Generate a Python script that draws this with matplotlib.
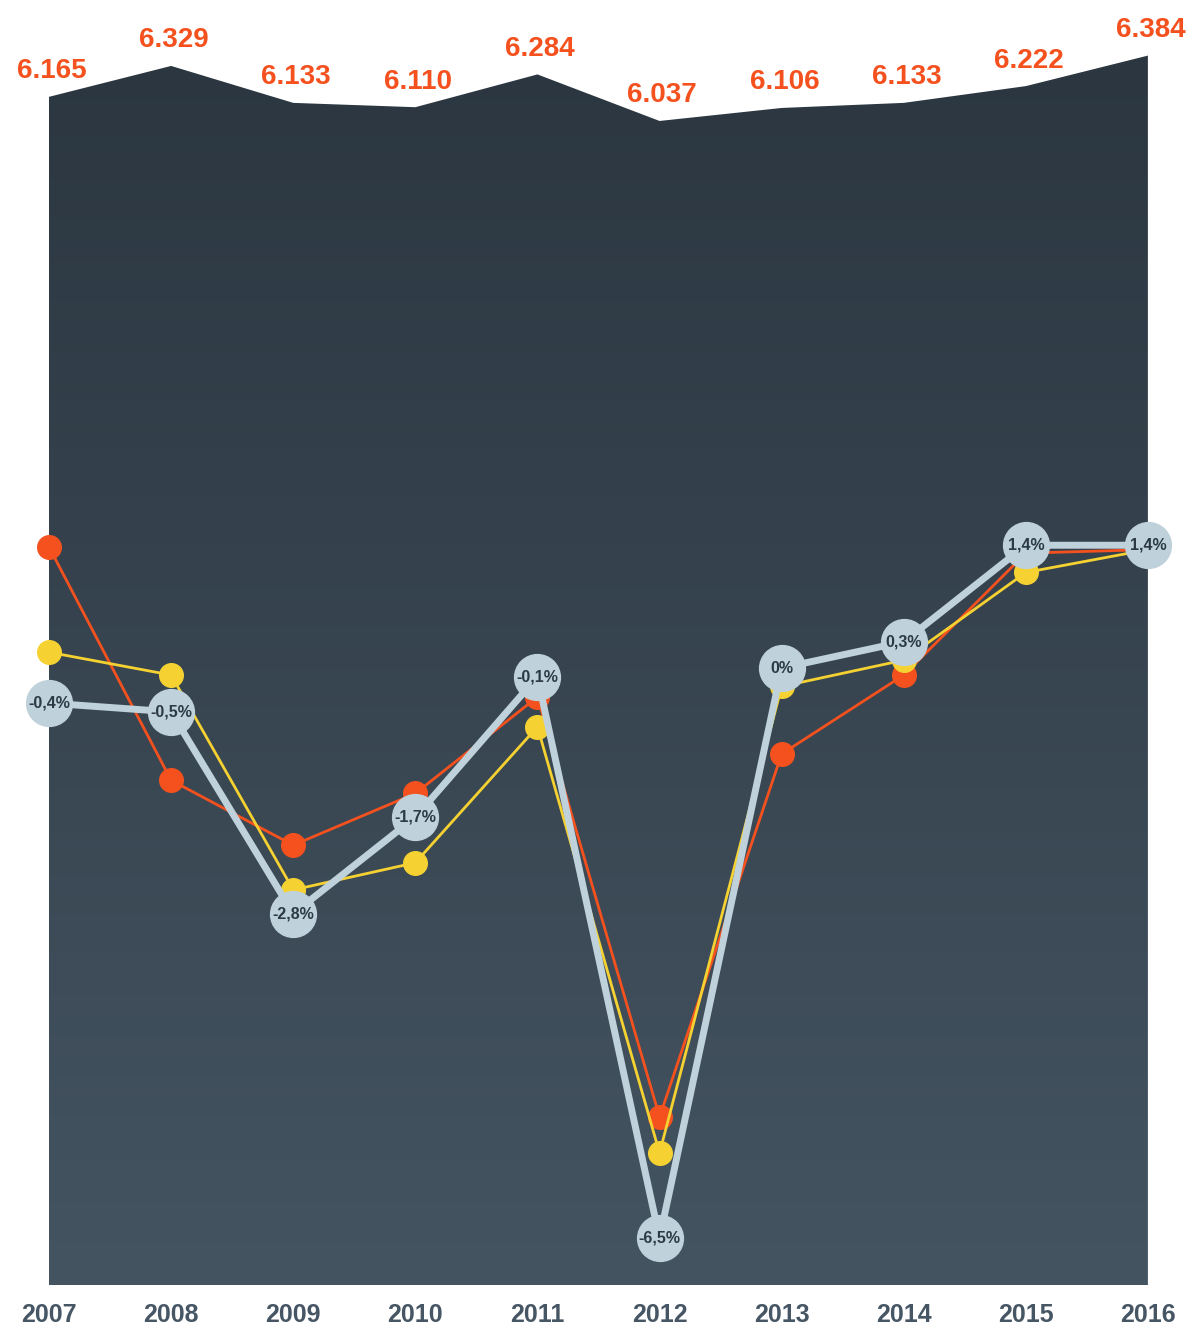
import numpy as np
import matplotlib.pyplot as plt
from matplotlib.patches import Polygon

years = [2007, 2008, 2009, 2010, 2011, 2012, 2013, 2014, 2015, 2016]
totals = [6.165, 6.329, 6.133, 6.110, 6.284, 6.037, 6.106, 6.133, 6.222, 6.384]
total_labels = ["6.165", "6.329", "6.133", "6.110", "6.284", "6.037", "6.106", "6.133", "6.222", "6.384"]

blue_vals = [-0.4, -0.5, -2.8, -1.7, -0.1, -6.5, 0.0, 0.3, 1.4, 1.4]
blue_labels = ["-0,4%", "-0,5%", "-2,8%", "-1,7%", "-0,1%", "-6,5%", "0%", "0,3%", "1,4%", "1,4%"]
red_vals = [1.38, -1.28, -2.02, -1.43, -0.33, -5.12, -0.98, -0.08, 1.31, 1.35]
yellow_vals = [0.18, -0.08, -2.53, -2.22, -0.67, -5.53, -0.21, 0.09, 1.09, 1.35]

ORANGE = "#f4511e"
YELLOW = "#f5d232"
BLUE = "#bfd1db"
DARK = "#2c3a45"
YEARC = "#465664"
FONT = ["Liberation Sans", "DejaVu Sans"]

fig = plt.figure(figsize=(11.9, 13.28), dpi=100)
ax = fig.add_axes([49 / 1190, 43 / 1328, 1099 / 1190, 1285 / 1328])
ax.set_xlim(2007, 2016)
ax.set_ylim(-0.141, 6.679)
for s in ax.spines.values():
    s.set_visible(False)
ax.set_yticks([])

# gradient area
base = -0.141
verts = [(years[0], base)] + list(zip(years, totals)) + [(years[-1], base)]
poly = Polygon(verts, closed=True, facecolor="none", edgecolor="none")
ax.add_patch(poly)
grad = np.linspace(0, 1, 256).reshape(-1, 1)
top_c = np.array([0x2b, 0x36, 0x40]) / 255
bot_c = np.array([0x44, 0x54, 0x61]) / 255
img = top_c + (bot_c - top_c) * grad[..., None]
im = ax.imshow(img, extent=[2007, 2016, base, max(totals)], origin="upper",
               aspect="auto", zorder=1)
im.set_clip_path(poly)
ax.plot([2016, 2016], [base, totals[-1]], color="#9aa6ae", lw=1, zorder=1)

for x, v, lab in zip(years, totals, total_labels):
    ax.annotate(lab, (x, v), xytext=(2, 9), textcoords="offset points",
                ha="center", va="bottom", fontsize=20, fontweight="bold",
                color=ORANGE, family=FONT, annotation_clip=False)

ax.set_xticks(years)
ax.set_xticklabels([str(y) for y in years], fontsize=18, fontweight="bold",
                   color=YEARC, family=FONT)
ax.tick_params(axis="x", length=0, pad=13)

# growth lines
ax2 = ax.twinx()
ax2.set_ylim(-7.035, 7.617)
ax2.set_xlim(2007, 2016)
ax2.axis("off")
ax2.plot(years, red_vals, color=ORANGE, lw=2, marker="o", ms=17,
         mec=ORANGE, clip_on=False, zorder=3)
ax2.plot(years, yellow_vals, color=YELLOW, lw=2, marker="o", ms=17,
         mec=YELLOW, clip_on=False, zorder=4)
ax2.plot(years, blue_vals, color=BLUE, lw=5, marker="o", ms=33,
         mec=BLUE, clip_on=False, zorder=5)
for x, v, lab in zip(years, blue_vals, blue_labels):
    ax2.text(x, v, lab, ha="center", va="center", fontsize=11.5,
             fontweight="bold", color=DARK, family=FONT, zorder=6)

fig.savefig("out.png", dpi=100)
